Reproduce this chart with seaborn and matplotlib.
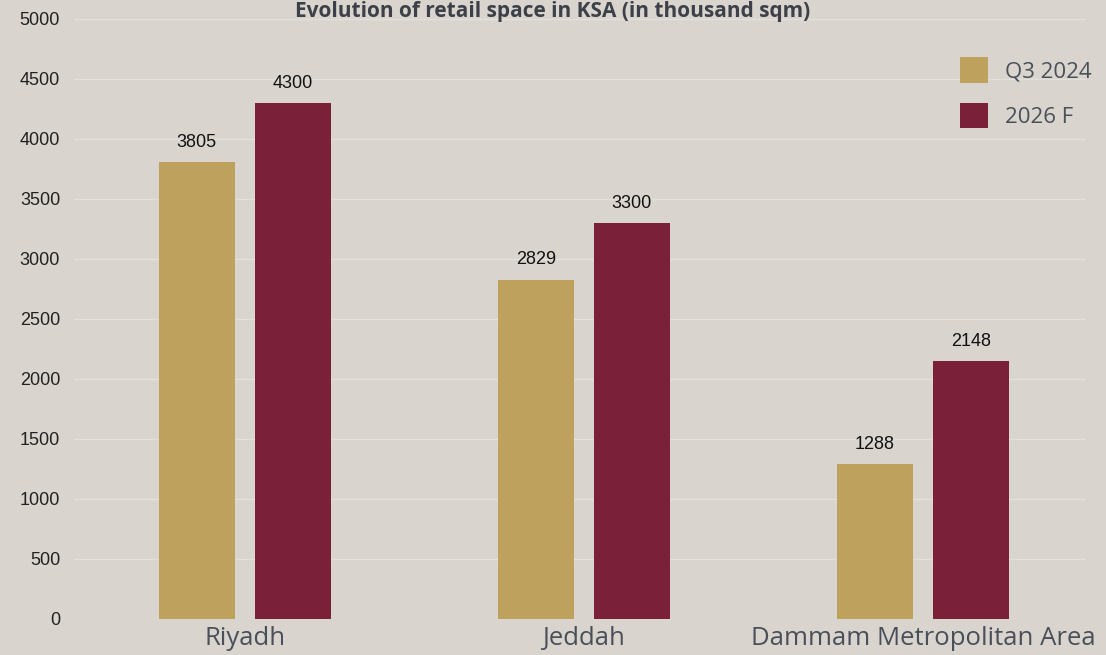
import matplotlib
matplotlib.use("Agg")
import matplotlib.pyplot as plt
import seaborn as sns
import pandas as pd

cities = ["Riyadh", "Jeddah", "Dammam Metropolitan Area"]
q3_2024 = [3805, 2829, 1288]
f_2026 = [4300, 3300, 2148]
series = ["Q3 2024", "2026 F"]
yticks = [0, 500, 1000, 1500, 2000, 2500, 3000, 3500, 4000, 4500, 5000]
title = "Evolution of retail space in KSA (in thousand sqm)"

df = pd.DataFrame({
    "city": cities * 2,
    "series": [series[0]] * 3 + [series[1]] * 3,
    "value": q3_2024 + f_2026,
})

sns.set_theme(style="white")
bg = "#d9d5ce"
fig = plt.figure(figsize=(11.06, 6.55), dpi=100, facecolor=bg)
ax = fig.add_axes([0.0669, 0.055, 0.915, 0.916])
ax.set_facecolor(bg)

palette = {"Q3 2024": "#bda15d", "2026 F": "#7a2039"}
sns.barplot(data=df, x="city", y="value", hue="series", order=cities,
            hue_order=series, palette=palette, width=0.566, gap=0.208,
            saturation=1, ax=ax, legend=True, linewidth=0, edgecolor="none")

ax.set_ylim(0, 5000)
ax.set_xlim(-0.504, 2.481)
ax.set_yticks(yticks)
ax.set_yticklabels([str(t) for t in yticks], fontsize=13, color="#222222",
                   family="Liberation Sans")
ax.tick_params(axis="y", length=0, pad=10)
ax.tick_params(axis="x", length=0, pad=5)
for lab in ax.get_xticklabels():
    lab.set_fontsize(18.5)
    lab.set_color("#4a505a")
    lab.set_family("Open Sans")
ax.grid(axis="y", color="#e3e0db", linewidth=1)
ax.set_axisbelow(True)
for s in ax.spines.values():
    s.set_visible(False)
ax.set_xlabel("")
ax.set_ylabel("")

for cont in ax.containers:
    ax.bar_label(cont, fmt="%d", padding=8, fontsize=13, color="#111111",
                 family="Liberation Sans")

leg = ax.legend(loc="upper right", bbox_to_anchor=(1.025, 0.97), frameon=False,
                fontsize=16, handlelength=1.25, handleheight=1.4,
                labelspacing=0.9, handletextpad=0.75)
for t in leg.get_texts():
    t.set_color("#4a505a")
    t.set_family("Open Sans")

fig.text(0.5, 0.999, title, ha="center", va="top", fontsize=15,
         fontweight="bold", color="#3d4048", family="Open Sans")

fig.savefig("out.png", dpi=100, facecolor=bg)
